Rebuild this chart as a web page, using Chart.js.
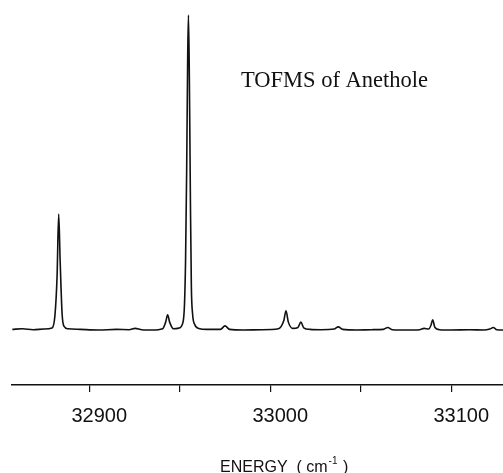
<!DOCTYPE html>
<html>
<head>
<meta charset="utf-8">
<script src="https://cdn.jsdelivr.net/npm/chart.js@4/dist/chart.umd.min.js"></script>
<style>
  html, body { margin: 0; padding: 0; background: #fff; }
  #wrap { width: 503px; height: 473px; position: relative; }
</style>
</head>
<body>
<div id="wrap"><canvas id="grafico"></canvas></div>
<script>
// ── Dados (energia em cm-1, intensidade relativa, pico maior = 100) ──
const energia = [
  32857.5, 32863, 32869, 32875, 32879.4, 32881.0, 32882.2, 32883.1, 32883.9, 32885.0, 32886.0, 32888.2,
  32895, 32905, 32915, 32922, 32925.3, 32929, 32935, 32940.5, 32942.2, 32943.3, 32944.4, 32946.5,
  32949.5, 32951.8, 32952.6, 32953.2, 32953.8, 32954.4, 32954.8, 32955.3, 32955.9, 32956.4, 32957.1, 32958.2, 32960.5,
  32965, 32972.5, 32975.0, 32977.5, 32985, 32995, 33004.5, 33007.5, 33008.7, 33010.0, 33012.5,
  33015.3, 33016.9, 33018.5, 33022, 33028, 33035.3, 33037.6, 33040, 33048, 33056, 33062.5, 33064.9, 33067.5,
  33075, 33082.5, 33085.0, 33087.5, 33088.8, 33089.7, 33091.0, 33093.5, 33100, 33110, 33118, 33121.3, 33123.2, 33125.2, 33128.6
];
const intensidade = [
  0.2, 0.4, 0.1, 0.3, 0.6, 4.5, 17, 36.8, 22, 5, 1.2, 0.4,
  0.2, 0.0, 0.2, 0.1, 0.5, 0.1, 0.0, 0.4, 2.5, 4.8, 2.5, 0.4,
  0.6, 2.5, 8, 22, 50, 88, 100, 80, 40, 14, 5, 1.8, 0.5,
  0.2, 0.2, 1.3, 0.2, 0.0, 0.1, 0.4, 3.0, 6.1, 2.5, 0.5,
  0.8, 2.5, 0.7, 0.2, 0.1, 0.3, 1.0, 0.2, 0.0, 0.1, 0.2, 0.8, 0.1,
  0.0, 0.1, 0.5, 0.3, 1.5, 3.2, 0.8, 0.1, 0.0, 0.1, 0.0, 0.3, 0.8, 0.1, 0.0
];

// ── Eixo X ──
const EIXO_MIN   = 32857.3;
const EIXO_MAX   = 33128.6;
const PASSO_TICK = 50;
const TICKS_COM_ROTULO = [32900, 33000, 33100];

const TITULO = "TOFMS of Anethole";

// Plugin simples para os textos soltos (título interno e rótulo do eixo)
const textosSoltos = {
  id: "textosSoltos",
  afterDraw(chart) {
    const ctx = chart.ctx;
    ctx.save();
    ctx.fillStyle = "#111";
    ctx.textBaseline = "alphabetic";

    ctx.font = "22.5px 'Liberation Serif', serif";
    ctx.textAlign = "center";
    ctx.fillText(TITULO, 334.5, 87);

    // ENERGY ( cm-1 )
    ctx.textAlign = "left";
    ctx.font = "16px 'Liberation Sans', sans-serif";
    let x = 220;
    const y = 472;
    const p1 = "ENERGY  ( cm";
    ctx.fillText(p1, x, y);
    x += ctx.measureText(p1).width + 1;
    ctx.font = "10px 'Liberation Sans', sans-serif";
    ctx.fillText("-1", x, y - 8);
    x += ctx.measureText("-1").width + 1;
    ctx.font = "16px 'Liberation Sans', sans-serif";
    ctx.fillText(" )", x, y);
    ctx.restore();
  }
};

new Chart(document.getElementById("grafico"), {
  type: "line",
  data: {
    labels: energia,
    datasets: [{
      data: energia.map((e, i) => ({ x: e, y: intensidade[i] })),
      borderColor: "#111",
      borderWidth: 1.6,
      pointRadius: 0,
      cubicInterpolationMode: "monotone",
      fill: false,
    }]
  },
  options: {
    responsive: true,
    maintainAspectRatio: false,
    animation: false,
    layout: { padding: { left: 12, right: 0, top: 0, bottom: 0 } },
    plugins: {
      legend: { display: false },
      tooltip: { enabled: false },
    },
    scales: {
      x: {
        type: "linear",
        min: EIXO_MIN,
        max: EIXO_MAX,
        border: { display: true, color: "#111", width: 1.6 },
        grid: { drawOnChartArea: false, drawTicks: true, tickLength: 7, color: "#111", lineWidth: 1.2 },
        ticks: {
          stepSize: PASSO_TICK,
          includeBounds: false,
          autoSkip: false,
          maxRotation: 0,
          padding: 12,
          labelOffset: 10,
          color: "#111",
          font: { family: "'Liberation Sans', sans-serif", size: 20 },
          callback: v => TICKS_COM_ROTULO.includes(v) ? String(v) : ""
        },
        afterFit: escala => { escala.height = 88; }
      },
      y: {
        display: false,
        min: -17.46,
        max: 104.76,
      }
    }
  },
  plugins: [textosSoltos]
});
</script>
</body>
</html>
